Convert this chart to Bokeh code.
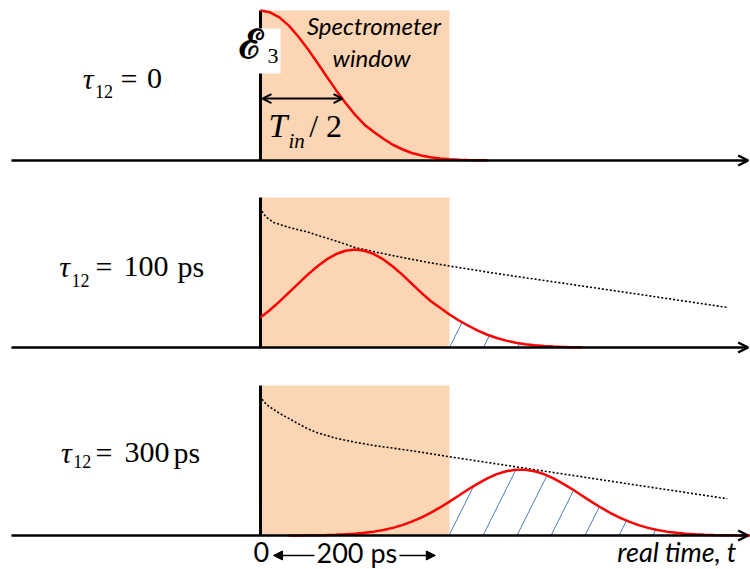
from bokeh.plotting import figure
from bokeh.models import Range1d, Arrow, OpenHead, NormalHead
from bokeh.layouts import column
from bokeh.core.properties import value
from bokeh.embed import file_html
from bokeh.resources import INLINE

# ---------------- data (time in ps, amplitude in a.u.) ----------------
WINDOW = [0, 200]          # spectrometer window, ps
WINDOW_HEIGHT = 1.0

# tau12 = 0 : E3 pulse
pulse1_t = [0, 10, 20, 30, 40, 50, 60, 70, 80, 90, 100, 110, 120, 130, 140, 150,
            160, 170, 180, 190, 200, 210, 220, 230, 240]
pulse1_a = [1.0, 0.988, 0.954, 0.899, 0.827, 0.744, 0.653, 0.560, 0.469, 0.383,
            0.306, 0.239, 0.19, 0.145, 0.105, 0.075, 0.05, 0.034, 0.022, 0.014,
            0.009, 0.005, 0.003, 0.002, 0.001]

# tau12 = 100 ps
pulse2_t = [0, 10, 20, 30, 40, 50, 60, 70, 80, 90, 100, 110, 120, 130, 140, 150,
            160, 170, 180, 190, 200, 210, 220, 230, 240, 250, 260, 270, 280, 290,
            300, 310, 320, 330, 340]
pulse2_a = [0.200, 0.250, 0.306, 0.366, 0.426, 0.486, 0.540, 0.587, 0.623, 0.645,
            0.653, 0.645, 0.623, 0.587, 0.540, 0.486, 0.426, 0.366, 0.31, 0.265,
            0.22, 0.18, 0.145, 0.112, 0.085, 0.063, 0.046, 0.032, 0.022, 0.015,
            0.010, 0.006, 0.004, 0.002, 0.001]
env2_t = [0, 3, 8, 14, 28, 40, 50, 62, 75, 87, 100, 125, 150, 175, 200, 250, 300,
          400, 494]
env2_a = [0.933, 0.89, 0.86, 0.833, 0.805, 0.785, 0.77, 0.745, 0.72, 0.695, 0.667,
          0.632, 0.60, 0.57, 0.543, 0.493, 0.447, 0.355, 0.267]

# tau12 = 300 ps
pulse3_t = [30, 40, 50, 60, 70, 80, 90, 100, 110, 120, 130, 140, 150, 160, 170,
            180, 190, 200, 210, 220, 230, 240, 250, 260, 270, 280, 290, 300, 310,
            320, 330, 340, 350, 360, 370, 380, 390, 400, 410, 420, 430, 440, 450,
            460, 470, 480, 490, 500, 510, 518]
pulse3_a = [0.0004, 0.0006, 0.0011, 0.0019, 0.003, 0.0049, 0.0077, 0.0117, 0.0176,
            0.0257, 0.0366, 0.0509, 0.0693, 0.092, 0.119, 0.151, 0.187, 0.226,
            0.267, 0.308, 0.346, 0.381, 0.409, 0.428, 0.439, 0.439, 0.428, 0.409,
            0.381, 0.346, 0.308, 0.267, 0.226, 0.187, 0.151, 0.119, 0.092, 0.0693,
            0.0509, 0.0366, 0.0257, 0.0176, 0.0117, 0.0077, 0.0049, 0.003, 0.0019,
            0.0011, 0.0006, 0.0004]
env3_t = [0, 3, 8, 14, 20, 30, 40, 49, 60, 80, 100, 120, 160, 200, 243, 289, 400, 494]
env3_a = [0.933, 0.895, 0.865, 0.84, 0.815, 0.78, 0.745, 0.715, 0.685, 0.648, 0.622,
          0.60, 0.565, 0.525, 0.484, 0.44, 0.334, 0.245]

tau_values = ["0", "100", "300"]
tau_units = ["", "ps", "ps"]

# ---------------- styling ----------------
PEACH = "#FCD5B5"
RED = "#FF0000"
HATCH = "#4F81BD"
SERIF = value("Liberation Serif")
SANS = value("Lato")
X_RANGE = (-275.1, 518.5)
MID = "middle"


def make_fig(height, ybottom, ytop):
    f = figure(width=750, height=height, x_range=Range1d(*X_RANGE),
               y_range=Range1d(ybottom, ytop), output_backend="svg",
               toolbar_location=None, x_axis_location=None, y_axis_location=None,
               min_border=0, background_fill_color="white",
               border_fill_color="white")
    f.grid.visible = False
    f.outline_line_color = None
    return f


def base_elements(f, t, a, env_t=None, env_a=None):
    f.quad(left=[WINDOW[0]], right=[WINDOW[1]], bottom=[0], top=[WINDOW_HEIGHT],
           fill_color=PEACH, line_color=None)
    if env_t is not None:
        ht = [ti for ti in t if ti >= WINDOW[1]]
        ha = [ai for ti, ai in zip(t, a) if ti >= WINDOW[1]]
        f.varea(x=ht, y1=[0] * len(ht), y2=ha, fill_alpha=0, hatch_pattern="/",
                hatch_color=HATCH, hatch_weight=1, hatch_scale=68, hatch_alpha=1)
    f.segment(x0=[0], y0=[0], x1=[0], y1=[WINDOW_HEIGHT], line_color="black",
              line_width=3)
    f.add_layout(Arrow(end=OpenHead(size=10, line_width=2.5, line_color="black"),
                       x_start=-263.5, y_start=0, x_end=516, y_end=0,
                       line_width=2.5, line_color="black"))
    if env_t is not None:
        f.line(env_t, env_a, line_color="black", line_width=1.6, line_dash="2 2")
    f.line(t, a, line_color=RED, line_width=2.5)


def tau_label(f, x0, y, xsub, ysub, xeq, xval, val, xunit, unit):
    f.text(x=[x0], y=[y], text=["τ"], text_font=SERIF, text_font_size="30px",
           text_font_style="italic", text_baseline=MID, text_align="left")
    f.text(x=[xsub], y=[ysub], text=["12"], text_font=SERIF, text_font_size="18px",
           text_baseline=MID, text_align="left")
    f.text(x=[xeq], y=[y], text=["="], text_font=SERIF, text_font_size="30px",
           text_baseline=MID, text_align="left")
    f.text(x=[xval], y=[y], text=[val], text_font=SERIF, text_font_size="30px",
           text_baseline=MID, text_align="left")
    if unit:
        f.text(x=[xunit], y=[y], text=[unit], text_font=SERIF, text_font_size="30px",
               text_baseline=MID, text_align="left")


# ---------------- panel 1 (page y 0..190, baseline at 160) ----------------
f1 = make_fig(190, -0.2, 1.0667)
base_elements(f1, pulse1_t, pulse1_a)
tau_label(f1, -188, 0.547, -175, 0.46, -148, -120, tau_values[0], 0, tau_units[0])
# E3 label on white box
f1.quad(left=[-23.3], right=[21.2], bottom=[0.58], top=[0.88], fill_color="white",
        line_color=None)
f1.text(x=[-23], y=[0.777], text=["ℰ"], text_font=value("DejaVu Serif"),
        text_font_size="40px", text_font_style="bold", text_baseline=MID,
        text_align="left")
f1.text(x=[7.5], y=[0.7], text=["3"], text_font=SERIF, text_font_size="22px",
        text_baseline=MID, text_align="left")
f1.text(x=[120, 117.5], y=[0.897, 0.687], text=["Spectrometer", "window"],
        text_font=SANS, text_font_size="24px", text_font_style="italic",
        text_baseline=MID, text_align="center")
f1.add_layout(Arrow(start=OpenHead(size=9, line_width=2), end=OpenHead(size=9, line_width=2),
                    x_start=2.1, y_start=0.413, x_end=86.8, y_end=0.413, line_width=2))
f1.text(x=[8.5], y=[0.233], text=["T"], text_font=SERIF, text_font_size="34px",
        text_font_style="italic", text_baseline=MID, text_align="left")
f1.text(x=[29.6], y=[0.133], text=["in"], text_font=SERIF, text_font_size="21px",
        text_font_style="italic", text_baseline=MID, text_align="left")
f1.text(x=[51.5], y=[0.227], text=["/ 2"], text_font=SERIF, text_font_size="32px",
        text_baseline=MID, text_align="left")

# ---------------- panel 2 (page y 190..377, baseline at 347) ----------------
f2 = make_fig(187, -0.2, 1.0467)
base_elements(f2, pulse2_t, pulse2_a, env2_t, env2_a)
tau_label(f2, -213, 0.543, -200, 0.45, -174.6, -145, tau_values[1], -87.8, tau_units[1])

# ---------------- panel 3 (page y 377..569, baseline at 535) ----------------
f3 = make_fig(192, -0.2267, 1.0533)
base_elements(f3, pulse3_t, pulse3_a, env3_t, env3_a)
tau_label(f3, -211, 0.55, -198, 0.49, -174.6, -144, tau_values[2], -92, tau_units[2])
f3.text(x=[-7.4, 59.3], y=[-0.113, -0.113], text=["0", "200 ps"], text_font=SANS,
        text_font_size="27px", text_baseline=MID, text_align="left")
f3.text(x=[504], y=[-0.107], text=["real time, t"], text_font=SANS,
        text_font_size="27px", text_font_style="italic", text_baseline=MID,
        text_align="right")
f3.add_layout(Arrow(end=NormalHead(size=9, fill_color="black", line_color="black"),
                    x_start=57, y_start=-0.133, x_end=13.8, y_end=-0.133, line_width=1.5))
f3.add_layout(Arrow(end=NormalHead(size=9, fill_color="black", line_color="black"),
                    x_start=147, y_start=-0.133, x_end=185, y_end=-0.133, line_width=1.5))

layout = column(f1, f2, f3, spacing=0)
open("out.html", "w").write(file_html(layout, INLINE))
